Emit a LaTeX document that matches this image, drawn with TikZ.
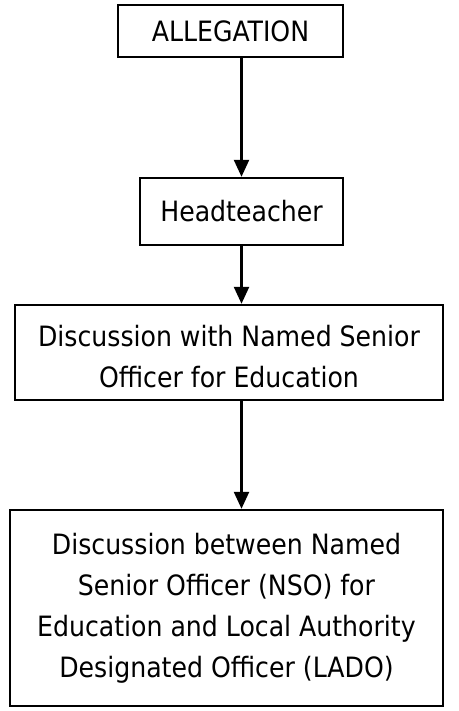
\documentclass[tikz,border=0pt]{standalone}
\usepackage{fontspec}
\setmainfont{DejaVu Sans Condensed}
\usetikzlibrary{arrows.meta}
\begin{document}
\begin{tikzpicture}[x=1pt,y=-1pt,
  flowbox/.style={draw=black,line width=2.4pt,rectangle,inner sep=0pt,align=center,
    font=\fontsize{28}{41}\selectfont},
  flowtext/.style={inner sep=0pt,align=center,font=\fontsize{28}{41}\selectfont},
  flowarrow/.style={line width=2.4pt,-{Triangle[width=15pt,length=17pt]}}]
\useasboundingbox (0,0) rectangle (458,711);
\node[flowbox,minimum width=225pt,minimum height=52pt] (alleg) at (230.5,31) {ALLEGATION};
\node[flowbox,minimum width=203pt,minimum height=67pt] (head) at (241.5,211.5) {Headteacher};
\node[flowbox,minimum width=428pt,minimum height=95pt] (nso) at (229,352.5) {};
\node[flowtext] (nsotext) at ([yshift=-4pt]nso.center) {Discussion with Named Senior\\Officer for Education};
\node[flowbox,minimum width=433pt,minimum height=196pt] (lado) at (226.5,608) {Discussion between Named\\Senior Officer (NSO) for\\Education and Local Authority\\Designated Officer (LADO)};
\draw[flowarrow] (alleg.south -| head.north) -- (head.north);
\draw[flowarrow] (head.south) -- (head.south |- nso.north);
\draw[flowarrow] (head.south |- nso.south) -- (head.south |- lado.north);
\end{tikzpicture}
\end{document}
